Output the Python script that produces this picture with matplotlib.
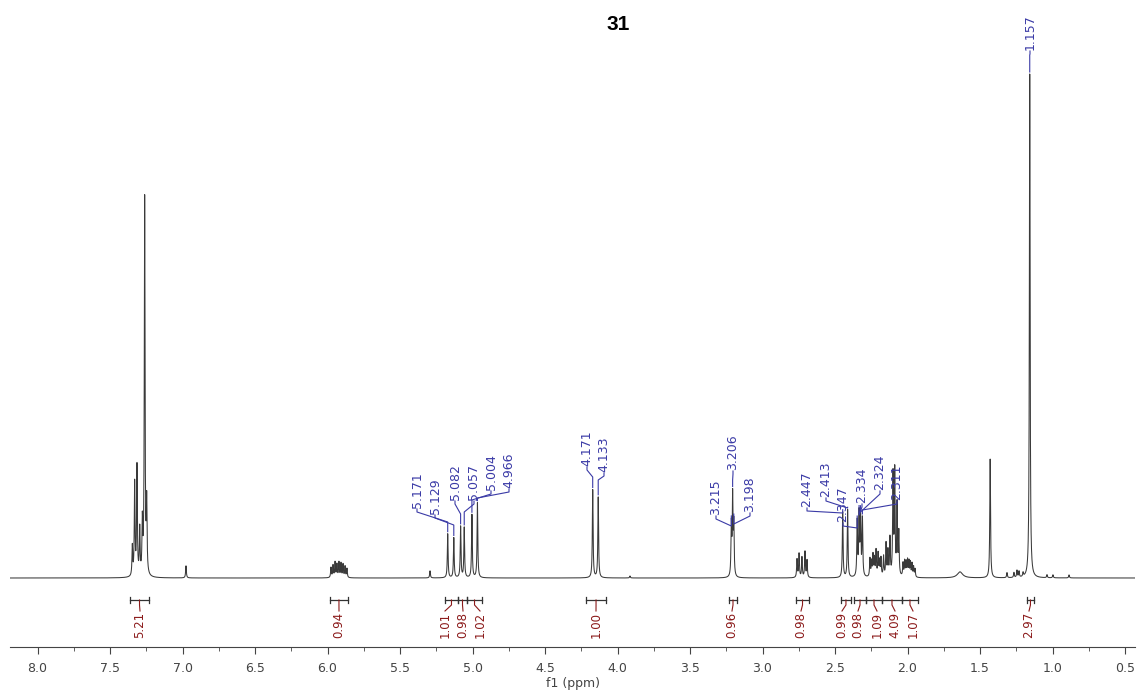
import numpy as np
import matplotlib
matplotlib.use("Agg")
import matplotlib.pyplot as plt
from matplotlib.ticker import MultipleLocator, FormatStrFormatter

W, H = 1139, 690

# ---------------------------------------------------------------------------
# data (ppm, relative height with 1.157 = 100)
# ---------------------------------------------------------------------------
peak_ppm = [7.346, 7.330, 7.314, 7.295, 7.277, 7.261, 7.247,
            6.976,
            5.976, 5.962, 5.948, 5.935, 5.921, 5.907, 5.893, 5.879, 5.866,
            5.293,
            5.171, 5.129, 5.082, 5.057, 5.004, 4.966,
            4.171, 4.133, 3.914,
            3.215, 3.206, 3.198,
            2.762, 2.748, 2.728, 2.707, 2.693,
            2.447, 2.413, 2.347, 2.334, 2.324, 2.311,
            2.259, 2.248, 2.238, 2.228, 2.217, 2.203, 2.193, 2.183,
            2.165, 2.148, 2.135, 2.121,
            2.100, 2.088, 2.072, 2.060,
            2.031, 2.020, 2.010, 2.000, 1.990, 1.980, 1.969, 1.958, 1.948,
            1.430,
            1.314, 1.266, 1.245, 1.231, 1.203,
            1.157,
            1.038, 0.997, 0.886]
peak_height = [5.9, 18.4, 21.7, 9.1, 10.1, 74.7, 13.8,
               2.4,
               2.0, 2.4, 3.0, 2.6, 3.0, 2.8, 2.6, 2.2, 1.8,
               1.4,
               8.7, 7.9, 10.1, 9.9, 12.5, 14.8,
               17.4, 16.0, 0.4,
               10.0, 15.5, 10.0,
               3.6, 4.7, 4.0, 5.1, 3.4,
               13.0, 13.4, 10.9, 12.1, 12.1, 11.3,
               3.6, 2.9, 4.2, 3.5, 5.1, 4.5, 3.0, 3.6,
               4.0, 6.5, 5.0, 7.5,
               20.0, 20.5, 14.0, 8.5,
               2.6, 3.0, 2.8, 3.2, 3.0, 2.8, 2.6, 2.0, 1.6,
               23.5,
               1.0, 1.0, 1.4, 1.2, 0.8,
               100.0,
               0.6, 0.6, 0.6]
broad_ppm = [1.638]
broad_height = [1.2]

labelled_ppm = [5.171, 5.129, 5.082, 5.057, 5.004, 4.966, 4.171, 4.133,
                3.215, 3.206, 3.198, 2.447, 2.413, 2.347, 2.334, 2.324,
                2.311, 1.157]

integral_from = [7.362, 5.983, 5.190, 5.100, 5.038, 4.217, 3.231, 2.769,
                 2.459, 2.369, 2.286, 2.176, 2.038, 1.176]
integral_to = [7.231, 5.859, 5.100, 5.038, 4.934, 4.079, 3.176, 2.679,
               2.390, 2.286, 2.176, 2.038, 1.928, 1.128]
integral_value = ["5.21", "0.94", "1.01", "0.98", "1.02", "1.00", "0.96",
                  "0.98", "0.99", "0.98", "1.09", "4.09", "1.07", "2.97"]

# ---------------------------------------------------------------------------
# layout helpers (pixel -> data)
# ---------------------------------------------------------------------------
def px2ppm(x):
    return 3.5 - (x - 690) / 145.0

def py2y(y):
    return (578 - y) / 506.0

# label placement (pixels): text x, text bottom, elbow
peak_lab_x = [417, 435, 455, 474, 491, 509, 587, 604,
              716, 733, 750, 807, 826, 843, 862, 880, 897, 1030]
peak_lab_b = [508, 514, 500, 500, 490, 488, 466, 472,
              515, 470, 512, 507, 497, 522, 503, 490, 500, 50]
peak_lab_e = [522, 525, 514, 512, 500, 498, 477, 480,
              526, 480, 524, 513, 508, 528, 515, 512, 510, 55]
int_lab_x = [140, 339, 445, 463, 480, 596, 732, 801, 842, 858, 877, 895,
             913, 1029]

# ---------------------------------------------------------------------------
# spectrum
# ---------------------------------------------------------------------------
ppm = np.linspace(8.2, 0.42, 20000)
spec = np.zeros_like(ppm)
hw = 0.003
for p, h in zip(peak_ppm, peak_height):
    spec += h / (1 + ((ppm - p) / hw) ** 2)
for p, h in zip(broad_ppm, broad_height):
    spec += h / (1 + ((ppm - p) / 0.022) ** 2)
spec /= 100.0

blue = "#3a3aa6"
red = "#8b1a1a"

fig = plt.figure(figsize=(W / 100, H / 100), dpi=100)
ax = fig.add_axes([10 / W, 43 / H, 1125 / W, 647 / H])
ax.plot(ppm, spec, color="#3a3a3a", lw=0.75)
ax.set_xlim(px2ppm(10), px2ppm(1135))
ax.set_ylim(py2y(647), py2y(0))

for s in ["left", "right", "top"]:
    ax.spines[s].set_visible(False)
ax.spines["bottom"].set_color("#444")
ax.set_yticks([])
ax.xaxis.set_major_locator(MultipleLocator(0.5))
ax.xaxis.set_minor_locator(MultipleLocator(0.25))
ax.xaxis.set_major_formatter(FormatStrFormatter("%.1f"))
ax.tick_params(axis="x", which="major", length=5, color="#444",
               labelsize=9, labelcolor="#444", pad=6)
ax.tick_params(axis="x", which="minor", length=3, color="#444")
ax.set_xlabel("f1 (ppm)", fontsize=9, color="#444", labelpad=1)

# peak labels
for val, tx, tb, te in zip(labelled_ppm, peak_lab_x, peak_lab_b, peak_lab_e):
    near = np.abs(ppm - val) < 0.002
    top = spec[near].max()
    xs = [px2ppm(tx), px2ppm(tx), val, val]
    ys = [py2y(tb + 1), py2y(tb + 4), py2y(te), top + 2 / 506]
    ax.plot(xs, ys, color=blue, lw=0.8)
    ax.text(px2ppm(tx), py2y(tb), f"{val:.3f}", rotation=90, ha="center",
            va="bottom", fontsize=9, color=blue)

# integrals
for a, b, v, lx in zip(integral_from, integral_to, integral_value, int_lab_x):
    yb = py2y(600)
    ax.plot([a, b], [yb, yb], color="#333", lw=0.9)
    for e in (a, b):
        ax.plot([e, e], [py2y(597), py2y(603)], color="#333", lw=0.9)
    mid = (a + b) / 2
    ax.plot([mid, mid, px2ppm(lx)], [yb, py2y(605), py2y(611)],
            color=red, lw=0.8)
    ax.text(px2ppm(lx), py2y(612), v, rotation=90, ha="center", va="top",
            fontsize=8.5, color=red)

fig.text(618 / W, 1 - 25 / H, "31", ha="center", va="center",
         fontsize=15, fontweight="bold", family="Liberation Sans")

fig.savefig("out.png", dpi=100)
